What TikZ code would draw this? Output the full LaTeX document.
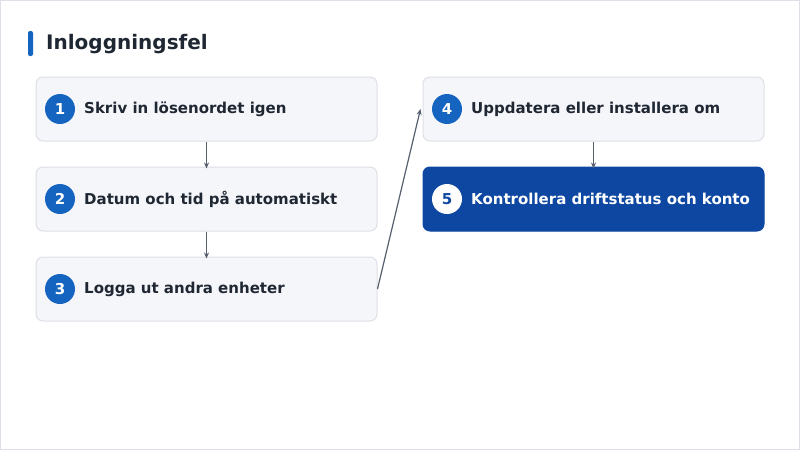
\documentclass[tikz,border=0pt]{standalone}
\usepackage{fontspec}
\setmainfont{DejaVu Sans}
\usetikzlibrary{positioning, arrows.meta}
\definecolor{boxfill}{HTML}{F5F6FA}
\definecolor{boxline}{HTML}{DDE0E6}
\definecolor{numblue}{HTML}{1565C0}
\definecolor{darkblue}{HTML}{0D47A1}
\definecolor{txt}{HTML}{1F2733}
\definecolor{arrowc}{HTML}{56606E}
\tikzset{
  stepbox/.style={draw=boxline, fill=boxfill, rounded corners=7pt, line width=1pt,
    minimum width=341pt, minimum height=64pt, inner sep=0pt},
  laststep/.style={stepbox, draw=darkblue, fill=darkblue},
  num/.style={circle, fill=numblue, text=white, minimum size=30pt, inner sep=0pt,
    font=\bfseries\fontsize{15}{15}\selectfont},
  lbl/.style={anchor=west, text=txt, inner sep=0pt, font=\bfseries\fontsize{15}{15}\selectfont},
  flow/.style={-{Stealth[length=6pt,width=5pt]}, draw=arrowc, line width=1.2pt}
}
\begin{document}
\begin{tikzpicture}[x=1pt, y=-1pt]
  \draw[boxline, line width=1pt, fill=white] (0.5,0.5) rectangle (799.5,449.5);
  \useasboundingbox (0,0) rectangle (800,450);
  \fill[numblue, rounded corners=2pt] (28,31) rectangle (33,56);
  \node[lbl, font=\bfseries\fontsize{20}{20}\selectfont] (title) at (46,44) {Inloggningsfel};

  \node[stepbox] (s1) at (206.5,109) {};
  \node[stepbox] (s2) at (206.5,199) {};
  \node[stepbox] (s3) at (206.5,289) {};
  \node[stepbox] (s4) at (593.5,109) {};
  \node[laststep] (s5) at (593.5,199) {};

  \node[num] (n1) at (60,109) {1};
  \node[num] (n2) at (60,199) {2};
  \node[num] (n3) at (60,289) {3};
  \node[num] (n4) at (447,109) {4};
  \node[num, fill=white, text=darkblue] (n5) at (447,199) {5};

  \node[lbl] (t1) at (84,109) {Skriv in lösenordet igen};
  \node[lbl] (t2) at (84,199) {Datum och tid på automatiskt};
  \node[lbl] (t3) at (84,289) {Logga ut andra enheter};
  \node[lbl] (t4) at (471,109) {Uppdatera eller installera om};
  \begin{scope}
    \clip (423,167) rectangle (764,231);
    \node[lbl, text=white] (t5) at (471,199) {Kontrollera driftstatus och konto};
  \end{scope}

  \draw[flow] (s1.south) -- ([yshift=-2pt]s2.north);
  \draw[flow] (s2.south) -- ([yshift=-2pt]s3.north);
  \draw[flow] (s3.east) -- ([xshift=-2pt]s4.west);
  \draw[flow] (s4.south) -- ([yshift=-2pt]s5.north);
\end{tikzpicture}
\end{document}
